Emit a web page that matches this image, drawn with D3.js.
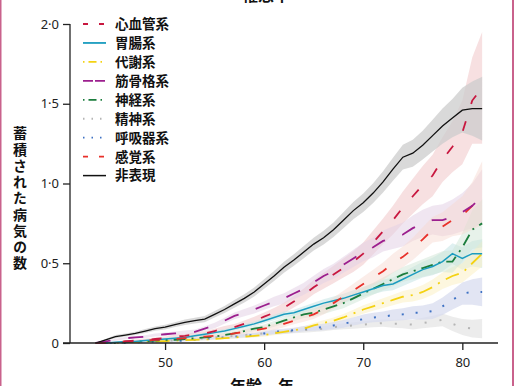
<!DOCTYPE html>
<html><head><meta charset="utf-8">
<script src="https://cdn.jsdelivr.net/npm/d3@7"></script>
<style>html,body{margin:0;padding:0;background:#fff;overflow:hidden}</style>
</head><body><svg id="c" width="514" height="386"></svg>
<script>
// ---- data ----
const ages = [43,44,45,46,47,48,49,50,51,52,53,54,55,56,57,58,59,60,61,62,63,64,65,66,67,68,69,70,71,72,73,74,75,76,77,78,79,80,81,82];
const cardiovascular = [0,0,0.005,0.01,0.015,0.02,0.025,0.03,0.04,0.045, 0.055,0.06,0.075,0.09,0.10,0.12,0.14,0.165,0.19,0.22, 0.26,0.30,0.35,0.39,0.43,0.47,0.51,0.56,0.63,0.70, 0.77,0.85,0.92,0.99,1.05,1.15,1.23,1.32,1.52,1.60];
const gastro = [0,0,0.005,0.01,0.01,0.015,0.02,0.025,0.03,0.035, 0.045,0.055,0.065,0.075,0.09,0.105,0.12,0.14,0.16,0.18, 0.19,0.21,0.23,0.25,0.265,0.28,0.30,0.32,0.34,0.36, 0.37,0.40,0.43,0.46,0.48,0.51,0.56,0.53,0.56,0.56];
const metabolic = [0,0,0,0.005,0.005,0.01,0.01,0.012,0.015,0.018, 0.02,0.022,0.025,0.03,0.035,0.04,0.045,0.05,0.06,0.07, 0.08,0.09,0.11,0.125,0.14,0.16,0.185,0.21,0.23,0.25, 0.27,0.29,0.30,0.32,0.35,0.39,0.42,0.44,0.50,0.56];
const musculo = [0,0.01,0.02,0.03,0.035,0.04,0.05,0.055,0.06,0.065, 0.07,0.09,0.11,0.14,0.17,0.19,0.21,0.235,0.26,0.28, 0.31,0.34,0.38,0.42,0.45,0.49,0.53,0.57,0.60,0.64, 0.66,0.68,0.72,0.75,0.77,0.77,0.79,0.82,0.86,0.92];
const neuro = [0,0,0,0.005,0.01,0.01,0.015,0.02,0.02,0.025, 0.03,0.035,0.04,0.05,0.06,0.075,0.09,0.10,0.12,0.14, 0.16,0.18,0.19,0.21,0.23,0.25,0.28,0.31,0.34,0.37, 0.40,0.43,0.45,0.47,0.49,0.51,0.51,0.60,0.71,0.75];
const psychiatric = [0,0,0,0.005,0.005,0.01,0.01,0.015,0.015,0.02, 0.025,0.03,0.035,0.04,0.045,0.05,0.055,0.06,0.065,0.07, 0.075,0.08,0.085,0.09,0.10,0.105,0.11,0.115,0.12,0.125, 0.12,0.12,0.115,0.125,0.135,0.145,0.12,0.10,0.09,0.09];
const respiratory = [0,0,0,0,0.005,0.005,0.01,0.01,0.012,0.015, 0.02,0.025,0.03,0.035,0.04,0.045,0.05,0.06,0.07,0.075, 0.08,0.09,0.095,0.10,0.11,0.12,0.135,0.15,0.16,0.165, 0.175,0.18,0.19,0.19,0.20,0.23,0.27,0.31,0.32,0.32];
const sensory = [0,0,0.005,0.01,0.01,0.015,0.02,0.02,0.025,0.03, 0.035,0.04,0.045,0.05,0.06,0.07,0.08,0.09,0.10,0.12, 0.14,0.16,0.18,0.21,0.25,0.29,0.33,0.37,0.41,0.45, 0.50,0.54,0.59,0.65,0.71,0.73,0.77,0.80,0.86,0.94];
const nonExpressed = [0,0.02,0.04,0.05,0.06,0.075,0.09,0.10,0.115,0.13, 0.14,0.15,0.18,0.21,0.245,0.28,0.32,0.37,0.42,0.475, 0.52,0.57,0.62,0.66,0.71,0.77,0.83,0.88,0.94,1.01, 1.09,1.165,1.19,1.24,1.30,1.36,1.41,1.46,1.47,1.47];

// half-widths of the confidence bands
const cardiovascularCI = [0,0.003,0.005,0.006,0.007,0.008,0.009,0.01,0.011,0.012, 0.013,0.014,0.015,0.017,0.019,0.021,0.024,0.027,0.03,0.033, 0.037,0.041,0.045,0.05,0.055,0.06,0.065,0.07,0.075,0.08, 0.09,0.10,0.11,0.12,0.13,0.14,0.16,0.20,0.27,0.35];
const gastroCI = [0,0.002,0.003,0.004,0.005,0.005,0.006,0.006,0.007,0.008, 0.009,0.01,0.011,0.012,0.013,0.014,0.015,0.016,0.017,0.018, 0.019,0.02,0.022,0.024,0.026,0.028,0.03,0.032,0.034,0.037, 0.04,0.043,0.046,0.05,0.055,0.06,0.065,0.07,0.08,0.09];
const metabolicCI = [0,0.001,0.002,0.003,0.003,0.004,0.004,0.005,0.005,0.006, 0.006,0.007,0.007,0.008,0.008,0.009,0.01,0.011,0.012,0.013, 0.014,0.015,0.016,0.018,0.02,0.022,0.024,0.026,0.028,0.03, 0.033,0.036,0.04,0.044,0.048,0.052,0.056,0.06,0.07,0.08];
const musculoCI = [0,0.004,0.006,0.007,0.008,0.009,0.01,0.011,0.012,0.013, 0.014,0.015,0.017,0.019,0.021,0.023,0.025,0.027,0.03,0.032, 0.035,0.038,0.041,0.044,0.047,0.05,0.054,0.058,0.062,0.066, 0.07,0.075,0.08,0.085,0.09,0.10,0.11,0.12,0.14,0.17];
const neuroCI = [0,0.002,0.003,0.004,0.005,0.005,0.006,0.006,0.007,0.008, 0.009,0.01,0.011,0.012,0.013,0.014,0.015,0.016,0.018,0.02, 0.022,0.024,0.026,0.028,0.03,0.032,0.034,0.036,0.038,0.04, 0.043,0.046,0.05,0.055,0.06,0.065,0.07,0.09,0.12,0.15];
const psychiatricCI = [0,0.001,0.002,0.003,0.003,0.004,0.004,0.005,0.005,0.006, 0.006,0.007,0.007,0.008,0.008,0.009,0.01,0.011,0.012,0.013, 0.014,0.015,0.016,0.017,0.018,0.019,0.02,0.021,0.022,0.023, 0.025,0.027,0.03,0.033,0.036,0.04,0.045,0.05,0.055,0.06];
const respiratoryCI = [0,0.001,0.002,0.003,0.003,0.004,0.004,0.005,0.005,0.006, 0.006,0.007,0.008,0.009,0.01,0.011,0.012,0.013,0.014,0.015, 0.016,0.017,0.018,0.02,0.022,0.024,0.026,0.028,0.03,0.032, 0.035,0.038,0.041,0.045,0.05,0.055,0.06,0.07,0.08,0.09];
const sensoryCI = [0,0.002,0.003,0.004,0.005,0.005,0.006,0.006,0.007,0.008, 0.009,0.01,0.011,0.012,0.013,0.014,0.015,0.017,0.019,0.021, 0.023,0.026,0.029,0.032,0.035,0.038,0.042,0.046,0.05,0.055, 0.06,0.065,0.07,0.075,0.08,0.09,0.10,0.12,0.15,0.20];
const nonExpressedCI = [0,0.005,0.01,0.01,0.01,0.012,0.013,0.015,0.015,0.017, 0.018,0.02,0.02,0.022,0.024,0.026,0.028,0.03,0.032,0.034, 0.036,0.038,0.04,0.043,0.046,0.05,0.054,0.058,0.062,0.067, 0.072,0.078,0.085,0.09,0.10,0.11,0.12,0.14,0.17,0.20];

const seriesNames = ["心血管系","胃腸系","代謝系","筋骨格系","神経系","精神系","呼吸器系","感覚系","非表現"];
const xTicks = [50,60,70,80];
const yTicks = [0,0.5,1,1.5,2];
const titleText = "罹患率";
const xLabel = "年齢，年";
const yLabel = "蓄積された病気の数";

// ---- styles ----
const seriesValues = [cardiovascular,gastro,metabolic,musculo,neuro,psychiatric,respiratory,sensory,nonExpressed];
const seriesCI = [cardiovascularCI,gastroCI,metabolicCI,musculoCI,neuroCI,psychiatricCI,respiratoryCI,sensoryCI,nonExpressedCI];
const colors = ["#c8173f","#1b9cbf","#f4d213","#9c1f8e","#1b7d3d","#b5b5b5","#3f72c4","#e8302a","#111111"];
const bandColors = ["#f0c6c8","#c9e6e6","#fbf0c4","#e3d2e6","#cfe6d6","#e4e4e4","#d8dcef","#f6d6cf","#cccccc"];
const bandOpacity = [0.55,0.6,0.55,0.55,0.5,0.7,0.75,0.45,0.75];
const dashes = ["10,18","none","14,7,2,7","15,18","12,6,2,6","2,13","2,12","10,17","none"];
const legendDashes = ["5,11","none","1.5,4,8,4","10,2","1.5,4,8,4","1.5,7","1.5,7","5,11","none"];
const widths = [1.8,1.5,1.8,1.8,1.8,2,2,1.8,1.3];

const svg = d3.select("#c");
const x = d3.scaleLinear().domain([39.7,83.6]).range([63,498]);
const y = d3.scaleLinear().domain([0,2]).range([343,24]);

// bands
const plot = svg.append("g");
seriesValues.forEach((vals,i)=>{
  const ci = seriesCI[i];
  const area = d3.area()
    .x((d,j)=>x(ages[j]))
    .y0((d,j)=>y(Math.max(0,vals[j]-ci[j])))
    .y1((d,j)=>y(vals[j]+ci[j]));
  plot.append("path").attr("d",area(vals))
    .attr("fill",bandColors[i]).attr("fill-opacity",bandOpacity[i]);
});
// lines
const drawOrder = [5,6,2,4,1,7,3,0,8];
drawOrder.forEach(i=>{
  const vals = seriesValues[i];
  const line = d3.line().x((d,j)=>x(ages[j])).y(d=>y(d));
  plot.append("path").attr("d",line(vals))
    .attr("fill","none").attr("stroke",colors[i])
    .attr("stroke-width",widths[i])
    .attr("stroke-dasharray",dashes[i]);
});

const fmt = v => v===0 ? "0" : d3.format(".1f")(v).replace(".","·");
// axes
const gy = svg.append("g").attr("transform","translate(70,0)")
  .call(d3.axisLeft(y).tickValues(yTicks).tickFormat(fmt).tickSize(7).tickPadding(4).tickSizeOuter(0));
const gx = svg.append("g").attr("transform","translate(0,343)")
  .call(d3.axisBottom(x).tickValues(xTicks).tickSize(7).tickPadding(8).tickSizeOuter(0));
gx.select(".domain").attr("d","M63,0H498");
gy.select(".domain").attr("d","M0,"+y(2)+"V"+y(0));
[gx,gy].forEach(g=>{
  g.selectAll("path,line").attr("stroke","#222").attr("stroke-width",1.3);
  g.selectAll("text").attr("font-family","'Noto Sans',sans-serif").attr("font-size",13).attr("fill","#222");
});

// legend
const lg = svg.append("g");
seriesNames.forEach((n,i)=>{
  const yy = 24 + i*18.95;
  lg.append("line").attr("x1",83).attr("x2",106).attr("y1",yy).attr("y2",yy)
    .attr("stroke",colors[i]).attr("stroke-width",widths[i]===1.3?1.5:1.8)
    .attr("stroke-dasharray",legendDashes[i]);
  lg.append("text").attr("x",115).attr("y",yy).attr("dy","0.36em")
    .attr("font-family","'Noto Sans CJK JP',sans-serif").attr("font-weight","bold")
    .attr("font-size",13.5).attr("fill","#111").text(n);
});

// title & labels
svg.append("text").attr("x",266).attr("y",1).attr("text-anchor","middle")
  .attr("font-family","'Noto Sans CJK JP',sans-serif").attr("font-weight","bold")
  .attr("font-size",16).attr("fill","#111").text(titleText);
svg.append("text").attr("x",262).attr("y",392).attr("text-anchor","middle")
  .attr("font-family","'Noto Sans CJK JP',sans-serif").attr("font-weight","bold")
  .attr("font-size",16).attr("fill","#111").text(xLabel);
svg.append("text").attr("x",20).attr("y",126)
  .style("writing-mode","vertical-rl").style("text-orientation","upright")
  .attr("letter-spacing",2.25)
  .attr("font-family","'Noto Sans CJK JP',sans-serif")
  .attr("font-weight","bold").attr("font-size",14).attr("fill","#111").text(yLabel);

// page border
svg.append("rect").attr("x",0).attr("y",0).attr("width",1.5).attr("height",386).attr("fill","#c9628c");
svg.append("rect").attr("x",512).attr("y",0).attr("width",2).attr("height",386).attr("fill","#c9628c");
</script>
</body></html>
